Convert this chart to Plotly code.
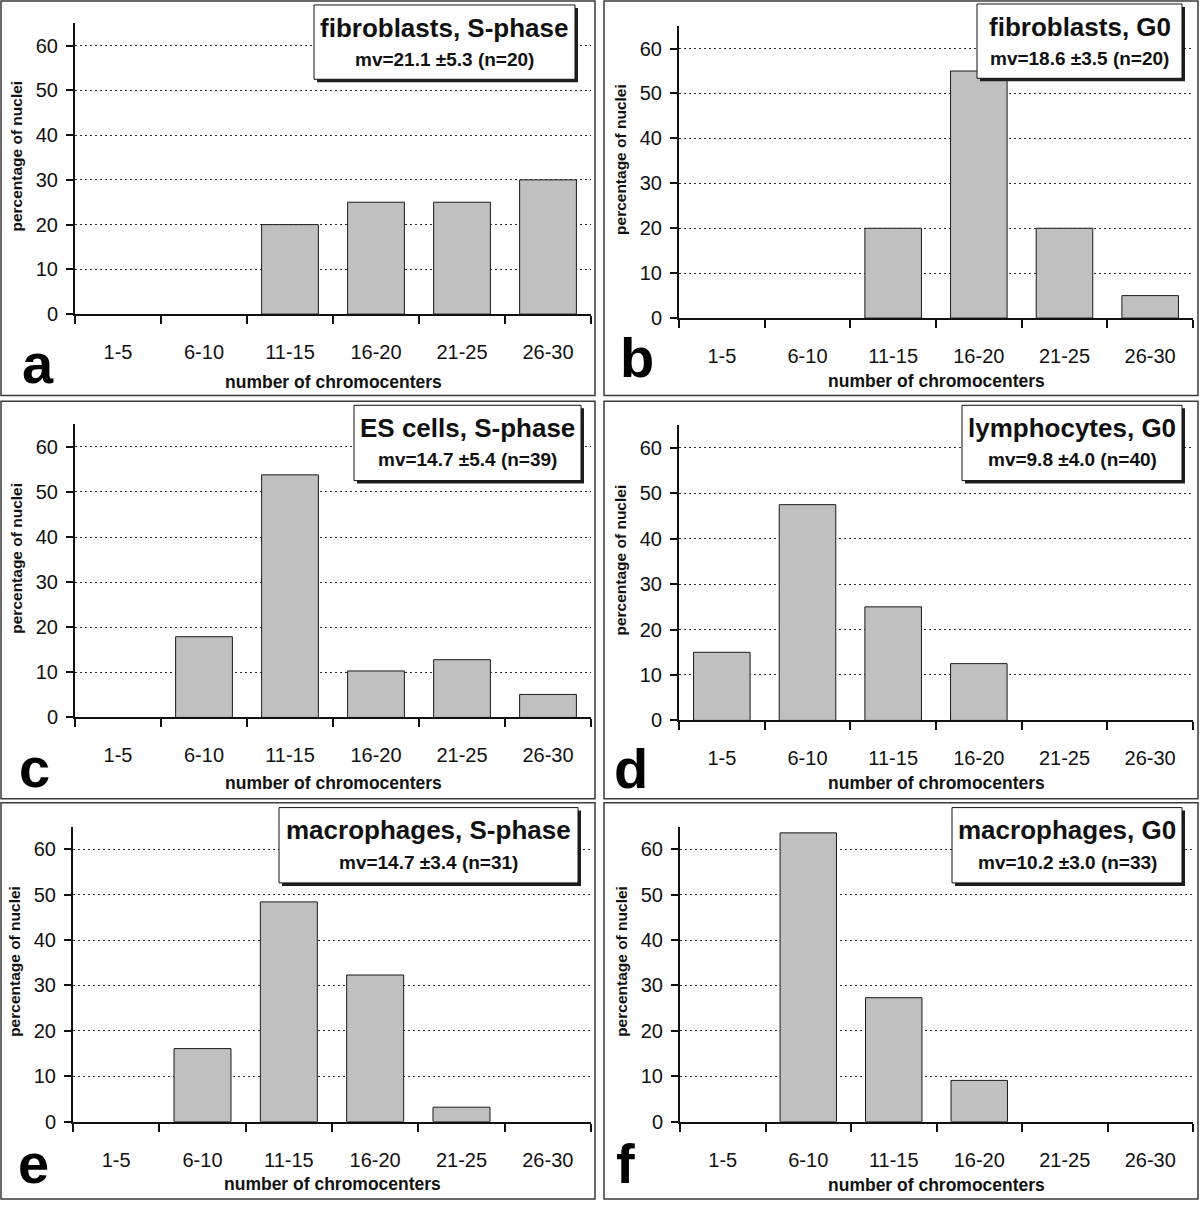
import plotly.graph_objects as go

# ---------------- data ----------------
categories = ["1-5", "6-10", "11-15", "16-20", "21-25", "26-30"]
fibroblasts_s_phase = [0, 0, 20, 25, 25, 30]
fibroblasts_g0 = [0, 0, 20, 55, 20, 5]
es_cells_s_phase = [0, 17.9, 53.8, 10.3, 12.8, 5.1]
lymphocytes_g0 = [15, 47.5, 25, 12.5, 0, 0]
macrophages_s_phase = [0, 16.1, 48.4, 32.3, 3.2, 0]
macrophages_g0 = [0, 63.6, 27.3, 9.1, 0, 0]

series = [fibroblasts_s_phase, fibroblasts_g0, es_cells_s_phase,
          lymphocytes_g0, macrophages_s_phase, macrophages_g0]
titles = ["fibroblasts, S-phase", "fibroblasts, G0", "ES cells, S-phase",
          "lymphocytes, G0", "macrophages, S-phase", "macrophages, G0"]
subtitles = ["mv=21.1 ±5.3 (n=20)", "mv=18.6 ±3.5 (n=20)", "mv=14.7 ±5.4 (n=39)",
             "mv=9.8 ±4.0 (n=40)", "mv=14.7 ±3.4 (n=31)", "mv=10.2 ±3.0 (n=33)"]
letters = ["a", "b", "c", "d", "e", "f"]
y_ticks = [0, 10, 20, 30, 40, 50, 60]
y_max = 65
x_title = "number of chromocenters"
y_title = "percentage of nuclei"

# ---------------- layout geometry (pixels) ----------------
W, H = 1200, 1212
FONT = "Liberation Sans, Arial, Helvetica, sans-serif"

panels = [
    dict(x0=75, x1=591, yz=317, y60=46, border=(1, 1, 595, 399), box=(314, 5, 575, 80),
         letter=(38, 367), xt=385),
    dict(x0=679, x1=1193, yz=321, y60=49, border=(604, 1, 1198, 399), box=(977, 4, 1182, 79),
         letter=(637, 361), xt=384),
    dict(x0=75, x1=591, yz=724, y60=451, border=(1, 405, 595, 806), box=(354, 409, 581, 485),
         letter=(34, 775), xt=790),
    dict(x0=679, x1=1193, yz=727, y60=452, border=(604, 405, 1198, 806), box=(962, 409, 1182, 485),
         letter=(631, 776), xt=790),
    dict(x0=73, x1=591, yz=1132, y60=857, border=(1, 810, 595, 1210), box=(279, 815, 578, 891),
         letter=(33, 1174), xt=1195),
    dict(x0=680, x1=1193, yz=1132, y60=857, border=(604, 810, 1198, 1210), box=(952, 815, 1182, 891),
         letter=(625, 1174), xt=1196),
]


def fx(px):
    return px / W


def fy(py):
    return 1 - py / H


fig = go.Figure()
shapes = []
annotations = []
layout_axes = {}

for i, (vals, p) in enumerate(zip(series, panels)):
    n = i + 1
    xa = "x" if n == 1 else f"x{n}"
    ya = "y" if n == 1 else f"y{n}"
    scale = (p["yz"] - p["y60"]) / 60.0
    ytop = p["yz"] - scale * y_max

    fig.add_trace(go.Bar(
        x=categories, y=[v if v > 0 else None for v in vals], xaxis=xa, yaxis=ya,
        marker=dict(color="#c0c0c0", line=dict(color="#1a1a1a", width=1)),
        showlegend=False, hoverinfo="x+y",
    ))

    xkey = "xaxis" if n == 1 else f"xaxis{n}"
    ykey = "yaxis" if n == 1 else f"yaxis{n}"
    layout_axes[xkey] = dict(
        domain=[fx(p["x0"]), fx(p["x1"])], anchor=ya,
        type="category", categoryorder="array", categoryarray=categories,
        range=[-0.5, 5.5], tickson="boundaries",
        ticks="outside", ticklen=8, tickwidth=1.5, tickcolor="#111",
        showline=True, linecolor="#111", linewidth=2,
        showgrid=False, zeroline=False,
        tickfont=dict(family=FONT, size=20, color="#111"),
        ticklabelstandoff=19,
    )
    layout_axes[ykey] = dict(
        domain=[fy(p["yz"]), fy(ytop)], anchor=xa,
        range=[0, y_max], tickvals=y_ticks,
        ticks="outside", ticklen=7, tickwidth=1.5, tickcolor="#111",
        showline=True, linecolor="#111", linewidth=2,
        showgrid=True, gridcolor="#2a2a2a", gridwidth=1, griddash="2px,3px",
        zeroline=False,
        tickfont=dict(family=FONT, size=20, color="#111"),
        ticklabelstandoff=4,
    )

    bx0, by0, bx1, by1 = p["border"]
    shapes.append(dict(type="rect", xref="paper", yref="paper",
                       x0=fx(bx0), x1=fx(bx1), y0=fy(by1), y1=fy(by0),
                       line=dict(color="#3a3a3a", width=1.5), fillcolor="rgba(0,0,0,0)",
                       layer="below"))
    qx0, qy0, qx1, qy1 = p["box"]
    shapes.append(dict(type="rect", xref="paper", yref="paper",
                       x0=fx(qx0 + 3), x1=fx(qx1 + 3), y0=fy(qy1 + 3), y1=fy(qy0 + 3),
                       line=dict(width=0), fillcolor="#1e1e1e", layer="above"))
    shapes.append(dict(type="rect", xref="paper", yref="paper",
                       x0=fx(qx0), x1=fx(qx1), y0=fy(qy1), y1=fy(qy0),
                       line=dict(color="#111", width=1), fillcolor="white", layer="above"))
    cx = (qx0 + qx1) / 2
    annotations.append(dict(text=titles[i], xref="paper", yref="paper",
                            x=fx(cx), y=fy(qy0 + 23), xanchor="center", yanchor="middle",
                            showarrow=False,
                            font=dict(family=FONT, size=26, color="#111", weight="bold")))
    annotations.append(dict(text=subtitles[i], xref="paper", yref="paper",
                            x=fx(cx), y=fy(qy0 + 55), xanchor="center", yanchor="middle",
                            showarrow=False,
                            font=dict(family=FONT, size=19, color="#111", weight="bold")))
    annotations.append(dict(text=x_title, xref="paper", yref="paper",
                            x=fx((p["x0"] + p["x1"]) / 2), y=fy(p["xt"]),
                            xanchor="center", yanchor="middle", showarrow=False,
                            font=dict(family=FONT, size=17.5, color="#111", weight="bold")))
    annotations.append(dict(text=y_title, xref="paper", yref="paper",
                            x=fx(p["x0"] - 58), y=fy(p["yz"] - 35.2 * scale),
                            xanchor="center", yanchor="middle", showarrow=False, textangle=-90,
                            font=dict(family=FONT, size=15.5, color="#111", weight="bold")))
    lx, ly = p["letter"]
    annotations.append(dict(text=letters[i], xref="paper", yref="paper",
                            x=fx(lx), y=fy(ly), xanchor="center", yanchor="middle",
                            showarrow=False,
                            font=dict(family=FONT, size=56, color="#000", weight="bold")))

fig.update_layout(
    width=W, height=H,
    margin=dict(l=0, r=0, t=0, b=0),
    paper_bgcolor="white", plot_bgcolor="white",
    bargap=0.34,
    shapes=shapes, annotations=annotations,
    **layout_axes,
)

fig.write_html("out.html",
               config={"displayModeBar": False},
               post_script="document.body.style.margin='0';document.body.style.overflow='hidden';")
